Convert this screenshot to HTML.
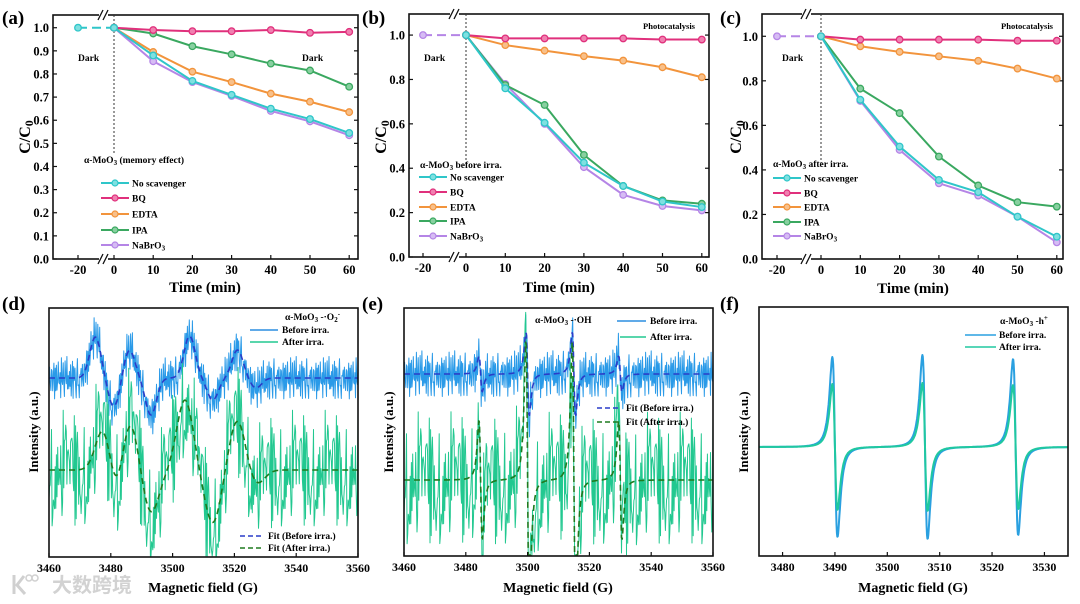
<!DOCTYPE html>
<html><head><meta charset="utf-8"><style>
html,body{margin:0;padding:0;background:#fff;width:1080px;height:604px;overflow:hidden;}
svg{display:block;font-family:"Liberation Serif","Noto Serif CJK SC",serif;font-weight:bold;}
</style></head><body>
<svg id="fig" width="1080" height="604" viewBox="0 0 1080 604" xmlns="http://www.w3.org/2000/svg">
<rect width="1080" height="604" fill="#fff"/>
<defs>
<clipPath id="clipd"><rect x="49" y="308" width="309" height="249"/></clipPath>
<clipPath id="clipe"><rect x="404" y="308" width="309" height="248"/></clipPath>
<clipPath id="clipf"><rect x="759" y="307" width="309" height="249"/></clipPath>
</defs>
<g id="layer"></g>
<text x="2" y="24" font-size="19">(a)</text>
<text x="362" y="24" font-size="19">(b)</text>
<text x="720" y="24" font-size="19">(c)</text>
<text x="2" y="310" font-size="19">(d)</text>
<text x="362" y="310" font-size="19">(e)</text>
<text x="720" y="310" font-size="19">(f)</text>

<text x="78" y="61" font-size="9.5">Dark</text>
<text x="302" y="61" font-size="9.5">Dark</text>
<text x="424" y="61" font-size="9.5">Dark</text>
<text x="782" y="61" font-size="9.5">Dark</text>
<text x="695" y="29" font-size="8.5" text-anchor="end">Photocatalysis</text>
<text x="1053" y="29" font-size="8.5" text-anchor="end">Photocatalysis</text>

<text x="84" y="163" font-size="9.5">α-MoO<tspan font-size="7" dy="2">3</tspan><tspan dy="-2"> (memory effect)</tspan></text>
<text x="420" y="168" font-size="9.5">α-MoO<tspan font-size="7" dy="2">3</tspan><tspan dy="-2"> before irra.</tspan></text>
<text x="773" y="167" font-size="9.5">α-MoO<tspan font-size="7" dy="2">3</tspan><tspan dy="-2"> after irra.</tspan></text>

<text transform="translate(30,137) rotate(-90)" font-size="16" text-anchor="middle">C/C<tspan font-size="12" dy="3">0</tspan></text>
<text transform="translate(386,137) rotate(-90)" font-size="16" text-anchor="middle">C/C<tspan font-size="12" dy="3">0</tspan></text>
<text transform="translate(741,137) rotate(-90)" font-size="16" text-anchor="middle">C/C<tspan font-size="12" dy="3">0</tspan></text>
<text x="205" y="292" font-size="15" text-anchor="middle">Time (min)</text>
<text x="559" y="292" font-size="15" text-anchor="middle">Time (min)</text>
<text x="913" y="293" font-size="15" text-anchor="middle">Time (min)</text>

<text transform="translate(38,432) rotate(-90)" font-size="13" text-anchor="middle">Intensity (a.u.)</text>
<text transform="translate(393,432) rotate(-90)" font-size="13" text-anchor="middle">Intensity (a.u.)</text>
<text transform="translate(748,432) rotate(-90)" font-size="13" text-anchor="middle">Intensity (a.u.)</text>
<text x="203" y="592" font-size="14" text-anchor="middle">Magnetic field (G)</text>
<text x="558" y="592" font-size="14" text-anchor="middle">Magnetic field (G)</text>
<text x="913" y="592" font-size="14" text-anchor="middle">Magnetic field (G)</text>

<g>
<path d="M14 575 L14 594 M24 576 L17 585 L25 594" stroke="#d0d0d0" stroke-width="3" fill="none"/>
<circle cx="29" cy="578" r="3" fill="none" stroke="#d0d0d0" stroke-width="1.5"/>
<circle cx="35" cy="578" r="3" fill="none" stroke="#d0d0d0" stroke-width="1.5"/>
<text x="52" y="592" font-size="20" font-weight="bold" fill="#d2d2d2" font-family="'Liberation Sans','Noto Sans CJK SC',sans-serif">大数跨境</text>
</g>

<g font-size="9.5">
<text x="285" y="320">α-MoO<tspan font-size="7" dy="2">3</tspan><tspan dy="-2"> -·O</tspan><tspan font-size="7" dy="2">2</tspan><tspan font-size="7" dy="-6">-</tspan></text>
<line x1="250" y1="330" x2="278" y2="330" stroke="#2c8ee0" stroke-width="1.5"/><text x="282" y="333">Before irra.</text>
<line x1="250" y1="342" x2="278" y2="342" stroke="#22c890" stroke-width="1.5"/><text x="282" y="345">After irra.</text>
<line x1="240" y1="536" x2="263" y2="536" stroke="#2a3cc8" stroke-width="1.5" stroke-dasharray="5,3"/><text x="268" y="539">Fit (Before irra.)</text>
<line x1="240" y1="548" x2="263" y2="548" stroke="#1f7a1f" stroke-width="1.5" stroke-dasharray="5,3"/><text x="268" y="551">Fit (After irra.)</text>
</g>
<g font-size="9.5">
<text x="535" y="323">α-MoO<tspan font-size="7" dy="2">3</tspan><tspan dy="-2"> -·OH</tspan></text>
<line x1="617" y1="321" x2="646" y2="321" stroke="#2c8ee0" stroke-width="1.5"/><text x="650" y="324">Before irra.</text>
<line x1="620" y1="337" x2="646" y2="337" stroke="#22c890" stroke-width="1.5"/><text x="650" y="340">After irra.</text>
<line x1="597" y1="408" x2="620" y2="408" stroke="#2a3cc8" stroke-width="1.5" stroke-dasharray="5,3"/><text x="626" y="411">Fit (Before irra.)</text>
<line x1="597" y1="422" x2="620" y2="422" stroke="#1f7a1f" stroke-width="1.5" stroke-dasharray="5,3"/><text x="626" y="425">Fit (After irra.)</text>
</g>
<g font-size="9.5">
<text x="1000" y="324">α-MoO<tspan font-size="7" dy="2">3</tspan><tspan dy="-2"> -h</tspan><tspan font-size="7" dy="-4">+</tspan></text>
<line x1="965" y1="335" x2="996" y2="335" stroke="#2aa0e0" stroke-width="1.5"/><text x="999" y="338">Before irra.</text>
<line x1="965" y1="347" x2="996" y2="347" stroke="#20c8a0" stroke-width="1.5"/><text x="999" y="350">After irra.</text>
</g>
</svg>
<script>
const times = [-20, 0, 10, 20, 30, 40, 50, 60];
const seriesNames = ["No scavenger", "BQ", "EDTA", "IPA", "NaBrO3"];
const aNoScav = [1, 1, 0.88, 0.77, 0.71, 0.65, 0.605, 0.545];
const aBQ     = [1, 1, 0.99, 0.985, 0.985, 0.99, 0.978, 0.982];
const aEDTA   = [1, 1, 0.895, 0.81, 0.765, 0.715, 0.68, 0.635];
const aIPA    = [1, 1, 0.975, 0.92, 0.885, 0.845, 0.815, 0.745];
const aNaBrO3 = [1, 1, 0.855, 0.765, 0.705, 0.64, 0.595, 0.535];
const bNoScav = [1, 1, 0.76, 0.605, 0.425, 0.32, 0.25, 0.225];
const bBQ     = [1, 1, 0.985, 0.985, 0.985, 0.985, 0.98, 0.98];
const bEDTA   = [1, 1, 0.955, 0.93, 0.905, 0.885, 0.855, 0.81];
const bIPA    = [1, 1, 0.775, 0.685, 0.46, 0.32, 0.255, 0.24];
const bNaBrO3 = [1, 1, 0.78, 0.6, 0.405, 0.28, 0.23, 0.21];
const cNoScav = [1, 1, 0.715, 0.505, 0.355, 0.3, 0.19, 0.1];
const cBQ     = [1, 1, 0.985, 0.985, 0.985, 0.985, 0.98, 0.98];
const cEDTA   = [1, 1, 0.955, 0.93, 0.91, 0.89, 0.855, 0.81];
const cIPA    = [1, 1, 0.765, 0.655, 0.46, 0.33, 0.255, 0.235];
const cNaBrO3 = [1, 1, 0.71, 0.49, 0.34, 0.285, 0.19, 0.075];
const xTickLabels = ["-20", "0", "10", "20", "30", "40", "50", "60"];
const yTicksA = [0, 0.1, 0.2, 0.3, 0.4, 0.5, 0.6, 0.7, 0.8, 0.9, 1.0];
const yTicksBC = [0, 0.2, 0.4, 0.6, 0.8, 1.0];

const fieldTicksDE = [3460, 3480, 3500, 3520, 3540, 3560];
const fieldTicksF = [3480, 3490, 3500, 3510, 3520, 3530];
const dBluePos = [3475, 3481, 3486, 3493, 3505.5, 3513, 3521, 3527];
const dBlueAmp = [41, -29, 28, -37, 42, -22, 28, -10];
const dGreenPos = [3478, 3481.5, 3486, 3493, 3504, 3513, 3521, 3527];
const dGreenAmp = [50, -37, 52, -43, 70, -53, 50, -15];
const eLinePos = [3484.8, 3500, 3515, 3530];
const eBlueAmp = [18, 42, 42, 18];
const eGreenAmp = [60, 140, 140, 60];
const fLinePos = [3490, 3507.2, 3524.5];
const fBlueAmp = [90, 92, 88];
const fGreenAmp = [63, 64, 62];
const noise = [0.42,-0.81,0.13,0.95,-0.37,-0.66,0.58,0.21,-0.92,0.74,-0.15,0.33,-0.58,0.87,-0.04,-0.71,0.49,0.12,-0.29,0.91,-0.83,0.27,0.66,-0.48,-0.09,0.78,-0.62,0.05,0.39,-0.97,0.55,-0.22,0.84,-0.41,0.18,-0.75,0.63,0.02,-0.55,0.97,-0.33,0.29,-0.86,0.47,0.71,-0.18,-0.64,0.36,-0.01,0.82,-0.49,0.24,-0.69];

const NS = "http://www.w3.org/2000/svg";
const layer = document.getElementById("layer");
function mk(tag, attrs, parent) {
  const el = document.createElementNS(NS, tag);
  for (const k in attrs) el.setAttribute(k, attrs[k]);
  (parent || layer).appendChild(el);
  return el;
}
const colors = ["#2fc6c9", "#e0307c", "#f2943c", "#3aa860", "#b585e6"];
const fills  = ["#7fe0e0", "#f080b0", "#f8c08a", "#88d0a0", "#d6bcf4"];

function linePanel(p, data, yTicks, legendYs, legendX, dashIdx) {
  const ymap = v => p.B - v / p.ymax * (p.B - p.T);
  const xmap = t => t < 0 ? p.xneg : p.x0 + t * p.k;
  const g = mk("g", {});
  
  
  const fr = mk("rect", {x: p.L, y: p.T, width: p.R - p.L, height: p.B - p.T, fill: "none", stroke: "#111", "stroke-width": 1.6}, g);
  
  
  yTicks.forEach((v, i) => {
    const y = ymap(v);
    mk("line", {x1: p.L, x2: p.L + 4, y1: y, y2: y, stroke: "#111", "stroke-width": 1.2}, g);
    mk("line", {x1: p.R, x2: p.R - 4, y1: y, y2: y, stroke: "#111", "stroke-width": 1.2}, g);
    const t = mk("text", {x: p.L - 4, y: y + 4.5, "font-size": 12.5, "text-anchor": "end"}, g);
    t.textContent = v.toFixed(1);
    
    
  });
  times.forEach((tm, i) => {
    const x = xmap(tm);
    mk("line", {x1: x, x2: x, y1: p.B, y2: p.B - 4, stroke: "#111", "stroke-width": 1.2}, g);
    const t = mk("text", {x: x, y: p.B + 15, "font-size": 12.5, "text-anchor": "middle"}, g);
    t.textContent = xTickLabels[i];
    
    
  });
  [p.T, p.B].forEach(yy => {
    mk("rect", {x: p.brk - 5, y: yy - 4, width: 9, height: 8, fill: "#fff"}, g);
    mk("path", {d: `M${p.brk - 6} ${yy + 5} L${p.brk - 1} ${yy - 5} M${p.brk - 1} ${yy + 5} L${p.brk + 4} ${yy - 5}`, stroke: "#111", "stroke-width": 1.3, fill: "none"}, g);
  });
  const dv = mk("line", {x1: xmap(0), x2: xmap(0), y1: p.T, y2: p.divEnd, stroke: "#333", "stroke-width": 1, "stroke-dasharray": "2,2"}, g);
  
  
  for (let s = data.length - 1; s >= 0; s--) {
    const vals = data[s];
    let d = "";
    for (let i = 1; i < times.length; i++) d += (i === 1 ? "M" : "L") + xmap(times[i]) + " " + ymap(vals[i]);
    const pl = mk("path", {d: d, fill: "none", stroke: colors[s], "stroke-width": 2}, g);
    
    
    if (s === dashIdx) {
      const dl = mk("line", {x1: xmap(times[0]), y1: ymap(vals[0]), x2: xmap(times[1]), y2: ymap(vals[1]), stroke: colors[s], "stroke-width": 2, "stroke-dasharray": "9,5"}, g);
      
      
    }
    for (let i = 0; i < times.length; i++) {
      if (i === 0 && s !== dashIdx) continue;
      const c = mk("circle", {cx: xmap(times[i]), cy: ymap(vals[i]), r: 3.3, fill: fills[s], stroke: colors[s], "stroke-width": 1.3}, g);
      
      
    }
  }
  seriesNames.forEach((nm, s) => {
    const y = legendYs[s];
    const ll = mk("line", {x1: legendX, x2: legendX + 28, y1: y, y2: y, stroke: colors[s], "stroke-width": 2}, g);
    
    
    mk("circle", {cx: legendX + 14, cy: y, r: 3, fill: fills[s], stroke: colors[s], "stroke-width": 1.2}, g);
    const t = mk("text", {x: legendX + 31, y: y + 3.5, "font-size": 9.5}, g);
    if (nm === "NaBrO3") { t.innerHTML = 'NaBrO<tspan font-size="7" dy="2">3</tspan>'; } else t.textContent = nm;
    
    
  });
}

linePanel({id: 'a', L: 53, R: 358, T: 15, B: 259, ymax: 1.055, x0: 114, k: 3.92, xneg: 78, brk: 104, divEnd: 155},
  [aNoScav, aBQ, aEDTA, aIPA, aNaBrO3], yTicksA, [183, 198, 214, 230, 245], 101, 0);
linePanel({id: 'b', L: 409, R: 709, T: 14, B: 257, ymax: 1.095, x0: 466, k: 3.93, xneg: 423, brk: 455, divEnd: 164},
  [bNoScav, bBQ, bEDTA, bIPA, bNaBrO3], yTicksBC, [177, 192, 207, 221, 236], 419, 4);
linePanel({id: 'c', L: 762, R: 1063, T: 14, B: 259, ymax: 1.10, x0: 821, k: 3.93, xneg: 777, brk: 807, divEnd: 163},
  [cNoScav, cBQ, cEDTA, cIPA, cNaBrO3], yTicksBC, [178, 193, 207, 222, 236], 773, 4);

function gauss(x, pos, amp, s) { let v = 0; for (let i = 0; i < pos.length; i++) v += amp[i] * Math.exp(-((x - pos[i]) ** 2) / (2 * s * s)); return v; }
function lorDeriv(x, pos, amp, w) {
  let v = 0; const norm = (2 / Math.sqrt(3)) / ((4 / 3) ** 2);
  for (let i = 0; i < pos.length; i++) { const u = (x - pos[i]) / w; v += amp[i] * (-2 * u / ((1 + u * u) ** 2)) / norm * -1; }
  return -v;
}
function eprPanel(p) {
  const xm = f => p.L + (f - p.x0) / (p.x1 - p.x0) * (p.R - p.L);
  const g = mk("g", {});
  
  
  const cg = mk("g", {"clip-path": "url(#clip" + p.id + ")"}, g);
  p.traces.forEach(tr => {
    let d = "";
    let i = 0;
    for (let f = p.x0; f <= p.x1; f += p.step, i++) {
      const n = 0.7 * noise[(i * tr.stride) % noise.length] + 0.3 * noise[(i * 5 + 11) % noise.length];
      let y = tr.base - tr.sig(f) + (tr.noise ? n * tr.noise(f) : 0);
      y = Math.max(p.T + 1, Math.min(p.B - 1, y));
      d += (i ? "L" : "M") + xm(f).toFixed(1) + " " + y.toFixed(1);
    }
    const pa = mk("path", {d: d, fill: "none", stroke: tr.color, "stroke-width": tr.w, "stroke-dasharray": tr.dash || "none", "stroke-linejoin": "round"}, cg);
    
    
  });
  const fr = mk("rect", {x: p.L, y: p.T, width: p.R - p.L, height: p.B - p.T, fill: "none", stroke: "#111", "stroke-width": 1.6}, g);
  
  
  p.ticks.forEach(v => {
    const x = xm(v);
    mk("line", {x1: x, x2: x, y1: p.B, y2: p.B - 4, stroke: "#111", "stroke-width": 1.2}, g);
    const t = mk("text", {x: x, y: p.B + 15, "font-size": 12, "text-anchor": "middle"}, g);
    t.textContent = v;
    
    
  });
}
eprPanel({id: 'd', L: 49, R: 358, T: 308, B: 557, x0: 3460, x1: 3560, step: 0.2, ticks: fieldTicksDE, traces: [
  {name: 'before-irra-trace', color: "#2a9ae8", w: 1, base: 378, stride: 1, sig: f => gauss(f, dBluePos, dBlueAmp, 1.8), noise: f => 26},
  {name: 'after-irra-trace', color: "#22c890", w: 1, base: 470, stride: 17, sig: f => gauss(f, dGreenPos, dGreenAmp, 2.6), noise: f => 72},
  {name: 'fit-before-irra', color: "#2a3cc8", w: 1.6, dash: "6,4", base: 378, stride: 1, sig: f => gauss(f, dBluePos, dBlueAmp, 1.8)},
  {name: 'fit-after-irra', color: "#1f7a1f", w: 1.6, dash: "6,4", base: 470, stride: 1, sig: f => gauss(f, dGreenPos, dGreenAmp, 2.6)}]});
eprPanel({id: 'e', L: 404, R: 713, T: 308, B: 556, x0: 3460, x1: 3560, step: 0.2, ticks: fieldTicksDE, traces: [
  {name: 'before-irra-trace', color: "#2a9ae8", w: 1, base: 374, stride: 1, sig: f => lorDeriv(f, eLinePos, eBlueAmp, 0.9), noise: f => 28},
  {name: 'after-irra-trace', color: "#22c890", w: 1, base: 480, stride: 17, sig: f => lorDeriv(f, eLinePos, eGreenAmp, 0.9), noise: f => 82},
  {name: 'fit-before-irra', color: "#2a3cc8", w: 1.6, dash: "6,4", base: 374, stride: 1, sig: f => lorDeriv(f, eLinePos, eBlueAmp, 0.9)},
  {name: 'fit-after-irra', color: "#1f7a1f", w: 1.6, dash: "6,4", base: 480, stride: 1, sig: f => lorDeriv(f, eLinePos, eGreenAmp, 0.9)}]});
eprPanel({id: 'f', L: 759, R: 1068, T: 307, B: 556, x0: 3475.5, x1: 3534.5, step: 0.08, ticks: fieldTicksF, traces: [
  {name: 'before-irra-trace', color: "#2aa0e0", w: 2, base: 447, stride: 1, sig: f => lorDeriv(f, fLinePos, fBlueAmp, 0.85)},
  {name: 'after-irra-trace', color: "#20c8a0", w: 2, base: 447, stride: 1, sig: f => lorDeriv(f, fLinePos, fGreenAmp, 0.85)}]});
</script>
</body></html>
